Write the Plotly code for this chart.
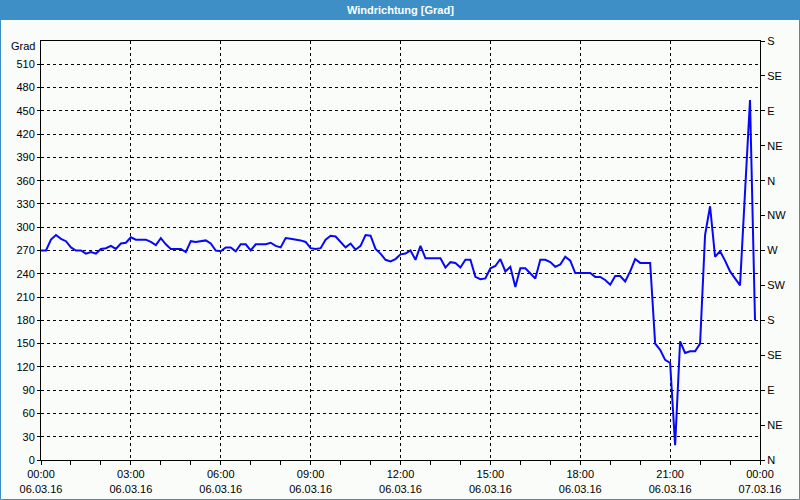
import plotly.graph_objects as go
import pandas as pd

# 10-minute readings, 06.03.16 00:00 .. 23:50
start = "2016-03-06 00:00"
interval_min = 10
wind_dir = [
    270, 270, 284, 290, 285, 282, 274, 270, 270, 266,
    268, 266, 272, 273, 276, 272, 279, 280, 287, 284,
    284, 284, 281, 277, 286, 278, 272, 272, 272, 268,
    282, 281, 282, 283, 279, 270, 269, 274, 274, 269,
    278, 278, 270, 278, 278, 278, 280, 276, 274, 286,
    285, 284, 283, 281, 273, 272, 273, 284, 289, 288,
    281, 274, 279, 271, 276, 290, 289, 272, 266, 258,
    256, 259, 265, 266, 270, 258, 276, 260, 260, 260,
    260, 248, 255, 254, 248, 258, 258, 236, 233, 234,
    247, 250, 259, 243, 249, 223, 247, 247, 240, 234,
    258, 258, 255, 249, 252, 262, 257, 241, 241, 241,
    241, 236, 236, 232, 226, 237, 237, 230, 243, 259,
    254, 254, 254, 150, 142, 129, 125, 19, 153, 138,
    140, 140, 150, 290, 327, 262, 269, 257, 243, 234,
    225, 345, 464, 180,
]
times = pd.date_range(start, periods=len(wind_dir), freq=f"{interval_min}min")

# left axis
deg_ticks = list(range(0, 540, 30))
deg_labels = [str(v) for v in deg_ticks]
# right axis (compass)
compass_ticks = list(range(0, 541, 45))
compass_labels = ["N", "NE", "E", "SE", "S", "SW", "W", "NW", "N", "NE", "E", "SE", "S"]
# bottom axis
time_ticks = pd.date_range("2016-03-06 00:00", "2016-03-07 00:00", freq="3h")
time_labels = [t.strftime("%H:%M") + "<br>" + t.strftime("%d.%m.%y") for t in time_ticks]

title = "Windrichtung [Grad]"
unit = "Grad"

BG = "#fafcfa"
BAR = "#3d8fc6"
FONT = "Liberation Sans"

fig = go.Figure()
fig.add_trace(go.Scatter(x=times, y=wind_dir, mode="lines",
                         line=dict(color="#0808f4", width=2),
                         showlegend=False, hoverinfo="x+y"))
fig.add_trace(go.Scatter(x=[], y=[], yaxis="y2", showlegend=False))

L, R, T, B = 41, 40, 41, 40
W, H = 800, 500
pw, ph = W - L - R, H - T - B

fig.update_layout(
    width=W, height=H,
    margin=dict(l=L, r=R, t=T, b=B, autoexpand=False),
    paper_bgcolor=BG, plot_bgcolor=BG,
    font=dict(family=FONT, size=11, color="#000000"),
    xaxis=dict(
        range=[time_ticks[0], time_ticks[-1]], automargin=False,
        tickmode="array", tickvals=list(time_ticks), ticktext=time_labels,
        showgrid=True, gridcolor="#000000", gridwidth=1, griddash="3px,3px",
        showline=True, linecolor="#000000", linewidth=1, mirror=True,
        ticks="outside", ticklen=4, tickcolor="#000000",
        minor=dict(tickmode="linear", tick0="2016-03-06", dtick=3600000,
                   ticks="outside", ticklen=4, tickcolor="#000000", showgrid=False),
        zeroline=False, fixedrange=True,
    ),
    yaxis=dict(
        range=[0, 540], automargin=False,
        tickmode="array", tickvals=deg_ticks, ticktext=deg_labels,
        showgrid=True, gridcolor="#000000", gridwidth=1, griddash="3px,3px",
        showline=True, linecolor="#000000", linewidth=1, mirror=True,
        ticks="outside", ticklen=3, tickcolor="#000000",
        zeroline=False, fixedrange=True,
    ),
    yaxis2=dict(
        range=[0, 540], overlaying="y", side="right", automargin=False,
        tickmode="array", tickvals=compass_ticks, ticktext=compass_labels,
        showgrid=False, showline=True, linecolor="#000000", linewidth=1,
        ticks="outside", ticklen=4, tickcolor="#000000",
        zeroline=False, fixedrange=True,
    ),
    shapes=[
        # title bar
        dict(type="rect", xref="paper", yref="paper",
             x0=-L / pw, x1=1 + R / pw, y0=1 + (T - 20) / ph, y1=1 + T / ph,
             fillcolor=BAR, line=dict(width=0), layer="below"),
        # outer frame
        dict(type="rect", xref="paper", yref="paper",
             x0=-(L - 0.5) / pw, x1=1 + (R - 0.5) / pw,
             y0=-(B - 0.5) / ph, y1=1 + (T - 0.5) / ph,
             line=dict(color=BAR, width=1), fillcolor="rgba(0,0,0,0)"),
    ],
    annotations=[
        dict(text="<b>" + title + "</b>", xref="paper", yref="paper",
             x=0.5 - (L - R) / 2 / pw, y=1 + (T - 10) / ph,
             xanchor="center", yanchor="middle", showarrow=False,
             font=dict(color="#ffffff", size=11, family=FONT)),
        dict(text=unit, xref="paper", yref="y", x=0, y=540,
             xanchor="right", yanchor="middle", xshift=-4, yshift=-5,
             showarrow=False, font=dict(size=11, family=FONT)),
    ],
)

fig.write_html("out.html", config={"displayModeBar": False},
               post_script="document.body.style.margin='0px';")
